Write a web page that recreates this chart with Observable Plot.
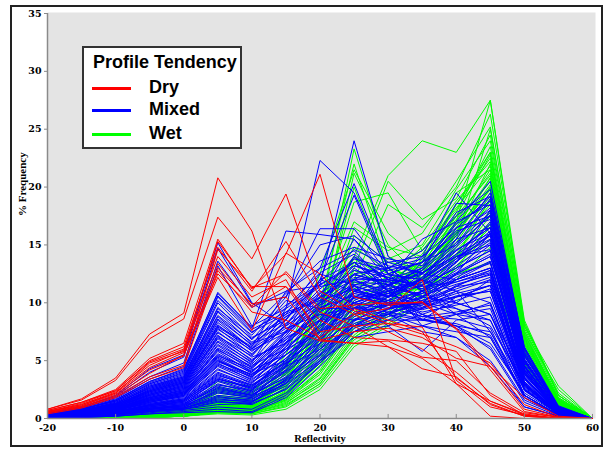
<!DOCTYPE html>
<html><head><meta charset="utf-8">
<script src="https://cdn.jsdelivr.net/npm/d3@7"></script>
<script src="https://cdn.jsdelivr.net/npm/@observablehq/plot@0.6"></script>
<style>
body{margin:0;background:#fff;}
#wrap{position:relative;width:607px;height:450px;overflow:hidden;}
#border{position:absolute;left:10px;top:5px;width:593px;height:442px;border:2px solid #222;box-sizing:border-box;pointer-events:none;}
#legend{position:absolute;left:82px;top:46px;width:160px;height:103px;background:#fff;border:2px solid #333;box-sizing:border-box;font-family:"Liberation Sans",Arial,sans-serif;font-weight:bold;font-size:18px;color:#000;overflow:visible;}
#legend .title{position:absolute;left:9px;top:4px;white-space:nowrap;}
#legend .item{position:absolute;left:65px;white-space:nowrap;line-height:20px;}
#legend .sw{position:absolute;left:8px;width:39px;height:3px;}
</style></head>
<body>
<div id="wrap">
  <div id="chart"></div>
  <div id="legend"></div>
  <div id="border"></div>
</div>
<script>
// Reflectivity bins (x) and tick labels
const bins = [-20,-15,-10,-5,0,5,10,15,20,25,30,35,40,45,50,55,60];
const xTicks = [-20,-10,0,10,20,30,40,50,60];
const yTicks = [0,5,10,15,20,25,30,35];
const groups = ["Dry","Mixed","Wet"];
const colors = ["#ff0000","#0000ff","#00ff00"];

// % Frequency profiles, one array per profile, values at each bin
const dry = [
 [0.8,1.7,3.5,7.3,9.1,20.8,16.2,7.8,6.7,6.5,6.7,5.3,5.0,2.2,0.5,0.1,0],
 [0.8,1.6,3.3,6.9,8.6,17.4,13.8,19.4,11.0,9.3,8.2,7.3,6.2,4.8,1.2,0.1,0],
 [0.7,1.4,2.5,5.2,6.5,15.5,11.2,14.2,21.1,10.5,9.8,10.1,7.8,4.5,0.8,0.1,0],
 [0.7,1.4,2.4,5.0,6.2,14.8,11.0,15.3,10.5,9.0,9.5,12.0,3.3,1.0,0.3,0,0],
 [0.6,1.2,2.3,4.6,5.9,13.4,9.7,12.7,9.5,9.8,10.0,10.0,7.7,4.2,0.6,0.1,0],
 [0.6,1.1,2.2,4.4,5.7,12.5,9.6,11.4,8.5,7.0,6.8,6.5,5.8,2.0,0.3,0,0],
 [0.5,1.0,2.0,3.9,5.5,12.2,7.6,14.3,12.5,9.5,8.5,7.5,3.5,1.3,0.2,0,0],
 [0.5,1.0,1.9,3.6,4.6,14.6,11.4,11.4,7.5,8.0,8.2,7.9,3.0,0.2,0.0,0,0],
 [0.6,1.2,2.2,4.8,5.8,15.3,11.3,12.5,9.2,8.0,6.2,4.3,3.6,1.2,0.2,0,0],
 [0.5,1.1,2.1,4.2,5.4,13.0,9.9,10.5,6.8,6.5,6.2,5.2,3.0,1.5,0.4,0,0],
 [0.6,1.3,2.4,4.9,6.0,14.0,10.5,12.0,6.8,7.5,7.8,7.0,5.2,4.5,1.8,0.2,0],
 [0.4,0.9,1.8,3.4,4.4,12.8,9.2,8.5,7.0,9.0,7.5,6.0,4.0,1.5,0.3,0,0]
];
const mixed = [
 [0.5,1.0,2.0,4.3,5.5,15.2,10.0,8.0,12.0,13.5,11.0,10.0,9.5,8.0,3.0,0.5,0],
 [0.5,1.0,1.9,4.0,5.3,14.7,9.9,10.5,16.4,16.4,12.5,12.0,11.0,7.5,2.5,0.4,0],
 [0.4,0.9,1.8,3.6,4.8,13.6,9.6,11.0,13.0,14.5,11.5,10.5,10.0,9.0,3.5,0.6,0],
 [0.4,0.9,1.7,3.4,4.5,13.2,8.0,9.5,22.3,19.5,13.0,11.0,9.0,7.0,2.0,0.3,0],
 [0.4,0.8,1.6,3.2,4.2,10.9,7.8,16.2,15.9,15.5,12.0,8.5,8.0,6.5,2.2,0.4,0],
 [0.4,0.8,1.5,3.0,4.0,10.5,7.5,9.0,10.5,12.5,11.5,13.0,15.5,16.5,4.0,0.6,0],
 [0.4,0.8,1.5,2.9,3.8,10.0,7.0,8.5,12.0,11.0,10.5,12.0,14.0,15.0,3.5,0.5,0],
 [0.3,0.7,1.4,2.8,3.6,9.6,6.8,10.2,9.5,14.0,12.0,11.5,13.5,18.0,4.5,0.7,0],
 [0.3,0.7,1.3,2.7,3.5,9.2,6.5,7.5,11.0,10.0,9.5,10.0,12.0,13.0,3.0,0.5,0],
 [0.3,0.7,1.3,2.6,3.4,8.8,6.3,9.0,13.0,20.3,13.0,11.0,9.5,8.5,2.5,0.4,0],
 [0.3,0.6,1.2,2.5,3.3,8.5,6.0,8.0,10.0,12.0,13.5,14.0,16.5,17.5,4.0,0.6,0],
 [0.3,0.6,1.2,2.4,3.2,8.1,5.8,7.8,9.0,9.5,9.0,8.5,10.5,11.5,2.8,0.5,0],
 [0.3,0.6,1.1,2.3,3.1,7.8,5.5,8.5,12.5,11.5,10.5,12.5,15.0,19.0,5.0,0.8,0],
 [0.3,0.6,1.1,2.2,3.0,7.5,5.3,6.5,9.8,13.0,11.0,9.0,8.0,7.5,2.0,0.3,0],
 [0.3,0.6,1.1,2.1,2.9,7.2,5.0,7.0,8.5,10.0,10.8,11.5,13.0,14.5,3.8,0.6,0],
 [0.3,0.5,1.0,2.0,2.8,6.9,4.8,9.5,11.5,24.0,14.0,12.0,10.0,9.0,2.5,0.4,0],
 [0.3,0.5,1.0,2.0,2.7,6.6,4.6,6.0,7.5,9.0,9.5,10.5,12.5,16.0,4.2,0.7,0],
 [0.2,0.5,1.0,1.9,2.6,6.3,4.4,7.2,10.5,15.5,12.5,13.5,18.6,18.4,5.0,0.8,0],
 [0.2,0.5,0.9,1.8,2.5,6.0,4.2,5.5,8.0,11.0,10.0,9.5,11.0,12.0,3.0,0.5,0],
 [0.2,0.5,0.9,1.8,2.4,5.8,4.0,6.8,9.0,8.5,9.0,7.5,7.0,4.5,1.0,0.2,0],
 [0.2,0.4,0.9,1.7,2.3,5.5,3.9,5.0,7.0,10.5,11.5,12.5,14.5,16.5,4.5,0.7,0],
 [0.2,0.4,0.8,1.6,2.2,5.2,3.7,6.0,8.5,12.5,13.0,11.0,12.0,13.5,3.2,0.5,0],
 [0.2,0.4,0.8,1.5,2.1,5.0,3.5,7.5,12.0,19.3,12.5,10.0,9.0,10.0,2.5,0.4,0],
 [0.2,0.4,0.8,1.5,2.0,4.8,3.3,5.5,7.5,9.5,9.8,10.0,10.5,11.0,2.8,0.4,0],
 [0.2,0.4,0.7,1.4,1.9,4.5,3.2,4.8,6.5,8.5,9.0,11.0,13.5,17.0,5.5,0.9,0],
 [0.2,0.4,0.7,1.3,1.8,4.3,3.0,6.2,10.0,14.0,11.0,12.0,15.5,19.5,6.0,1.0,0],
 [0.2,0.3,0.7,1.3,1.7,4.0,2.9,4.5,6.0,8.0,8.5,8.5,9.0,9.5,2.0,0.3,0],
 [0.2,0.3,0.6,1.2,1.6,3.8,2.7,5.2,8.0,10.5,10.0,9.8,11.5,12.5,3.5,0.5,0],
 [0.1,0.3,0.6,1.1,1.5,3.5,2.5,4.2,7.0,9.0,10.5,13.5,16.0,18.0,5.0,0.8,0],
 [0.1,0.3,0.6,1.1,1.4,3.3,2.4,5.8,9.5,11.5,9.0,8.0,7.5,7.0,1.8,0.3,0],
 [0.1,0.3,0.5,1.0,1.3,3.0,2.2,4.0,6.2,8.8,10.0,11.0,12.5,14.0,4.0,0.6,0],
 [0.1,0.3,0.5,1.0,1.3,2.8,2.1,3.5,5.5,7.5,8.0,9.0,10.0,12.0,3.0,0.5,0],
 [0.1,0.2,0.5,0.9,1.2,2.6,2.0,3.8,6.8,10.0,11.0,12.0,14.0,15.5,4.8,0.8,0],
 [0.1,0.2,0.5,0.9,1.1,2.4,1.9,3.2,5.8,8.0,9.5,10.0,11.0,10.0,2.5,0.4,0],
 [0.1,0.2,0.4,0.8,1.0,2.2,1.8,4.5,8.5,12.0,12.0,13.0,17.0,20.5,6.0,1.0,0],
 [0.1,0.2,0.4,0.8,1.0,2.0,1.7,3.0,5.0,7.0,7.5,8.0,9.0,8.5,2.0,0.3,0],
 [0.1,0.2,0.4,0.7,0.9,1.8,1.6,3.4,6.0,9.0,10.5,11.5,13.0,14.5,4.0,0.6,0],
 [0.1,0.2,0.4,0.7,0.9,1.6,1.5,2.8,5.2,8.5,9.8,10.5,12.0,13.0,3.5,0.5,0],
 [0.1,0.2,0.3,0.6,0.8,1.4,1.4,3.0,6.5,11.0,13.0,14.5,17.5,19.8,6.2,1.1,0],
 [0.1,0.1,0.3,0.6,0.8,1.2,1.3,2.5,4.8,7.5,8.5,9.5,10.5,11.5,3.0,0.5,0],
 [0.1,0.1,0.2,0.4,0.6,0.8,0.6,2.0,5.0,8.0,9.5,11.0,13.5,16.0,5.0,0.8,0],
 [0.0,0.1,0.2,0.4,0.5,0.6,0.5,1.8,4.5,7.5,9.0,10.0,12.5,14.0,4.2,0.7,0],
 [0.3,0.7,1.4,2.8,3.7,9.5,7.2,10.5,15.0,15.8,13.5,12.5,12.0,13.0,3.0,0.5,0],
 [0.3,0.6,1.2,2.4,3.2,8.0,6.2,11.0,11.5,13.5,11.5,8.0,7.0,5.0,1.0,0.2,0],
 [0.2,0.5,1.0,2.0,2.7,6.7,4.9,8.2,10.5,12.0,10.5,8.5,8.2,7.2,2.0,0.3,0],
 [0.2,0.5,0.9,1.8,2.5,6.1,4.5,7.5,9.5,9.5,11.5,14.0,19.5,16.0,4.0,0.6,0],
 [0.2,0.4,0.9,1.7,2.3,5.6,4.1,6.5,8.8,11.0,12.0,15.5,17.0,18.5,5.2,0.8,0],
 [0.2,0.4,0.8,1.6,2.1,5.1,3.6,5.8,8.0,10.0,8.0,5.8,8.5,9.0,2.5,0.4,0],
 [0.2,0.4,0.7,1.4,1.9,4.6,3.4,5.5,7.8,11.5,12.5,13.5,15.0,17.5,5.8,0.9,0],
 [0.1,0.3,0.6,1.2,1.6,3.9,2.8,4.8,7.2,10.0,11.2,12.0,14.5,16.5,5.0,0.8,0],
 [0.1,0.3,0.6,1.1,1.5,3.6,2.6,4.4,6.8,9.5,10.2,11.0,12.8,15.0,4.5,0.7,0],
 [0.1,0.3,0.5,1.0,1.4,3.2,2.3,4.1,6.5,9.2,9.8,10.8,11.8,12.8,3.8,0.6,0],
 [0.1,0.2,0.5,0.9,1.2,2.7,2.0,3.6,6.0,8.2,9.2,9.8,10.8,11.5,3.2,0.5,0],
 [0.1,0.2,0.4,0.8,1.1,2.3,1.8,3.3,5.6,8.0,9.0,10.2,11.2,12.2,3.6,0.6,0],
 [0.2,0.5,1.0,2.1,2.8,7.0,5.1,6.8,9.2,10.8,10.2,9.2,9.8,10.5,2.6,0.4,0],
 [0.3,0.6,1.2,2.4,3.3,8.3,6.0,8.8,10.8,12.8,12.2,11.2,13.2,15.2,4.0,0.6,0],
 [0.3,0.7,1.3,2.6,3.5,8.9,6.6,8.2,11.2,13.5,12.8,13.5,16.2,17.2,4.6,0.7,0],
 [0.4,0.8,1.6,3.1,4.1,10.6,7.7,9.2,10.2,11.2,10.2,9.0,7.8,6.2,1.6,0.3,0],
 [0.1,0.2,0.4,0.8,1.1,2.9,2.4,4.6,7.4,10.4,11.0,11.8,13.8,16.2,4.6,0.7,0],
 [0.1,0.2,0.3,0.7,0.9,1.9,1.5,3.1,5.4,8.6,9.4,10.4,12.2,13.6,3.6,0.5,0],
 [0.1,0.1,0.3,0.6,0.8,1.5,1.2,2.6,5.0,8.4,10.2,12.2,14.8,17.6,5.4,0.9,0],
 [0.1,0.2,0.4,0.9,1.2,3.4,2.7,5.0,8.2,11.8,11.6,10.6,11.6,12.4,3.4,0.5,0],
 [0.2,0.3,0.6,1.2,1.7,4.2,3.1,5.2,7.6,9.8,10.8,12.8,15.8,18.2,5.6,0.9,0],
 [0.2,0.4,0.7,1.4,2.0,4.9,3.8,6.4,9.2,12.2,11.8,11.2,12.6,14.2,3.9,0.6,0],
 [0.2,0.4,0.8,1.6,2.2,5.4,4.3,7.0,10.2,13.2,12.4,12.0,14.2,16.8,4.9,0.8,0],
 [0.2,0.5,0.9,1.9,2.6,6.4,4.7,7.6,9.8,11.4,10.6,10.2,11.4,11.8,2.9,0.4,0],
 [0.3,0.5,1.0,2.1,2.9,7.1,5.4,8.6,11.8,14.6,13.2,12.6,14.6,16.0,4.3,0.7,0],
 [0.3,0.6,1.1,2.3,3.1,7.7,5.9,7.4,9.6,10.6,9.6,8.8,9.2,9.8,2.4,0.4,0],
 [0.3,0.6,1.2,2.5,3.4,8.6,6.4,9.6,12.6,14.2,12.0,11.6,13.8,15.8,4.4,0.7,0],
 [0.3,0.7,1.3,2.7,3.6,9.3,6.9,8.8,10.4,12.4,11.8,12.8,15.2,17.8,5.1,0.8,0],
 [0.4,0.8,1.5,3.0,3.9,10.2,7.4,9.8,11.6,13.2,12.2,11.4,11.8,12.6,3.1,0.5,0],
 [0.4,0.8,1.6,3.2,4.3,10.8,7.9,10.8,13.6,14.8,13.8,13.2,16.8,18.8,5.4,0.9,0],
 [0.1,0.1,0.2,0.5,0.7,1.0,0.8,2.2,4.8,7.8,8.8,9.6,11.4,12.8,3.8,0.6,0],
 [0.1,0.2,0.3,0.6,0.9,1.7,1.4,3.4,6.4,9.6,10.6,12.2,14.2,15.8,4.6,0.7,0],
 [0.1,0.2,0.4,0.8,1.0,2.5,2.0,4.2,7.0,10.2,11.4,13.0,16.4,19.2,6.1,1.0,0],
 [0.2,0.3,0.6,1.2,1.6,3.7,2.9,4.9,7.8,10.6,9.8,9.4,10.2,11.2,2.9,0.4,0],
 [0.2,0.4,0.7,1.5,2.0,4.7,3.6,6.0,8.6,10.4,10.8,11.8,13.6,15.4,4.2,0.7,0],
 [0.2,0.5,0.9,1.8,2.4,5.9,4.4,7.2,10.8,13.8,13.0,13.8,17.8,19.2,5.7,1.0,0],
 [0.3,0.6,1.1,2.2,3.0,7.4,5.6,8.0,10.0,11.6,11.2,10.8,12.4,13.4,3.4,0.5,0],
 [0.2,0.4,0.8,1.7,2.3,5.3,4.0,6.6,9.4,11.2,10.0,8.8,8.6,7.8,1.8,0.3,0],
 [0.1,0.3,0.5,1.1,1.5,3.4,2.6,4.7,7.6,10.8,11.6,12.6,14.0,14.6,4.1,0.6,0],
 [0.3,0.6,1.2,2.3,3.1,7.9,6.1,9.2,11.4,12.0,10.8,9.6,10.6,11.0,2.7,0.4,0],
 [0.2,0.4,0.8,1.6,2.2,5.0,3.8,6.2,8.4,9.6,9.2,8.6,8.0,6.0,1.4,0.2,0]
];
const wet = [
 [0.1,0.2,0.3,0.5,0.8,3.2,2.8,5.0,10.0,22.0,13.0,12.0,17.0,27.5,8.0,2.8,0],
 [0.1,0.2,0.3,0.5,0.8,2.9,2.5,4.5,9.0,23.3,14.0,12.5,16.0,22.0,7.5,2.5,0],
 [0.1,0.1,0.2,0.4,0.7,2.6,2.2,4.0,8.5,20.0,12.5,11.5,15.5,25.0,8.2,2.2,0],
 [0.1,0.1,0.2,0.4,0.7,2.4,2.0,3.8,8.0,21.2,15.0,12.0,14.0,19.0,6.5,1.8,0],
 [0.0,0.1,0.2,0.4,0.6,2.2,1.8,4.8,10.5,14.0,21.0,24.0,23.0,27.5,8.5,2.0,0],
 [0.0,0.1,0.2,0.3,0.6,2.0,1.7,3.5,7.5,13.0,20.5,17.2,19.0,24.5,7.6,1.6,0],
 [0.0,0.1,0.2,0.3,0.5,1.9,1.6,4.2,9.5,18.7,19.5,14.5,18.0,23.0,7.0,1.5,0],
 [0.0,0.1,0.1,0.3,0.5,1.8,1.5,3.0,6.5,12.0,18.5,16.5,20.0,26.3,8.3,2.0,0],
 [0.0,0.1,0.1,0.3,0.5,1.7,1.4,3.3,7.0,15.8,13.5,13.0,18.5,22.5,7.2,1.7,0],
 [0.0,0.1,0.1,0.3,0.5,1.6,1.3,2.8,6.0,11.0,12.0,13.5,19.5,21.5,6.0,1.4,0],
 [0.0,0.0,0.1,0.2,0.4,1.5,1.2,3.6,8.2,14.0,12.5,11.5,16.5,20.8,6.8,1.5,0],
 [0.0,0.0,0.1,0.2,0.4,1.4,1.1,2.5,5.5,10.0,11.2,12.8,17.5,21.0,6.4,1.3,0],
 [0.0,0.0,0.1,0.2,0.4,1.3,1.0,2.2,5.0,9.5,10.5,12.0,16.0,20.0,5.6,1.2,0],
 [0.0,0.0,0.1,0.2,0.4,1.2,1.0,3.0,7.5,12.8,11.5,12.5,17.8,23.5,7.4,1.6,0],
 [0.0,0.0,0.1,0.2,0.3,1.1,0.9,2.0,4.5,8.8,10.0,12.2,15.5,19.2,5.4,1.1,0],
 [0.0,0.0,0.1,0.2,0.3,1.0,0.8,2.4,6.2,11.5,13.0,14.5,18.2,21.8,6.6,1.4,0],
 [0.0,0.0,0.1,0.2,0.3,0.9,0.8,1.8,4.0,8.2,9.5,11.8,15.0,18.5,5.0,1.0,0],
 [0.0,0.0,0.1,0.1,0.3,0.8,0.7,1.6,3.8,7.8,9.2,11.5,14.5,17.8,4.8,1.0,0],
 [0.0,0.0,0.0,0.1,0.3,0.8,0.7,2.2,5.8,10.5,11.8,13.2,16.8,20.5,6.1,1.3,0],
 [0.0,0.0,0.0,0.1,0.2,0.7,0.6,1.5,3.5,7.5,9.0,11.0,14.0,17.0,4.6,0.9,0],
 [0.0,0.0,0.0,0.1,0.2,0.6,0.5,1.4,3.2,7.0,8.8,10.8,13.5,16.5,4.4,0.9,0],
 [0.0,0.0,0.0,0.1,0.2,0.5,0.5,1.2,3.0,6.8,8.5,10.5,13.2,16.0,4.2,0.8,0],
 [0.0,0.0,0.0,0.1,0.2,0.5,0.4,1.0,2.8,6.5,8.2,10.2,13.0,15.5,3.9,0.8,0],
 [0.0,0.0,0.1,0.2,0.3,1.0,0.9,2.6,6.8,12.0,13.8,15.0,19.8,24.0,7.8,1.8,0],
 [0.0,0.0,0.1,0.2,0.4,1.3,1.1,3.2,8.0,16.5,14.5,16.0,20.5,25.2,8.0,2.0,0],
 [0.0,0.1,0.1,0.3,0.5,1.9,1.6,3.9,8.5,13.5,11.0,10.5,14.2,18.0,5.4,1.2,0],
 [0.0,0.1,0.2,0.3,0.6,2.3,1.9,4.4,9.8,14.8,12.8,12.2,15.2,19.5,5.8,1.3,0],
 [0.0,0.0,0.1,0.2,0.4,1.6,1.3,2.9,6.8,11.8,10.8,11.2,13.8,17.5,5.1,1.1,0],
 [0.0,0.0,0.1,0.2,0.3,1.1,1.0,2.3,5.4,9.8,10.2,11.5,14.8,18.8,5.6,1.2,0],
 [0.0,0.0,0.1,0.2,0.3,0.9,0.8,2.0,4.8,9.0,9.8,12.5,16.2,20.2,6.0,1.3,0],
 [0.0,0.0,0.0,0.1,0.2,0.7,0.6,1.7,4.2,8.5,10.5,13.8,17.2,21.2,6.4,1.4,0],
 [0.0,0.0,0.0,0.1,0.2,0.6,0.5,1.6,4.0,8.0,10.0,13.0,16.5,19.8,5.8,1.2,0],
 [0.0,0.1,0.2,0.3,0.6,2.5,2.1,5.5,12.5,21.5,16.0,13.5,15.8,20.0,5.7,1.3,0],
 [0.0,0.1,0.1,0.3,0.5,1.5,1.2,4.0,10.0,17.0,14.8,14.0,17.5,22.8,7.1,1.6,0],
 [0.0,0.0,0.1,0.2,0.4,1.2,1.0,2.7,6.4,11.2,12.2,14.8,18.8,22.2,6.9,1.5,0],
 [0.0,0.0,0.0,0.1,0.3,0.8,0.7,1.9,4.6,9.2,11.0,13.5,17.0,21.5,6.7,1.5,0],
 [0.0,0.1,0.2,0.4,0.7,2.7,2.3,4.6,9.2,13.8,12.0,11.0,13.0,16.8,4.7,1.0,0],
 [0.0,0.0,0.1,0.2,0.4,1.4,1.2,3.4,7.8,12.5,11.5,12.8,16.0,19.8,5.9,1.2,0],
 [0.0,0.0,0.1,0.2,0.3,1.0,0.9,2.1,5.2,10.2,11.5,14.2,18.5,23.0,7.3,1.7,0],
 [0.0,0.0,0.0,0.1,0.2,0.6,0.5,1.3,3.4,7.2,9.5,12.0,15.8,20.8,6.2,1.3,0],
 [0.0,0.0,0.0,0.1,0.2,0.5,0.4,1.1,3.0,7.0,9.0,10.5,12.5,13.5,3.5,0.6,0],
 [0.0,0.0,0.0,0.1,0.2,0.4,0.3,0.8,2.5,6.2,8.0,10.0,12.0,14.8,2.5,0.3,0]
];

function rowsOf(series, name) {
  const out = [];
  series.forEach((s, i) => s.forEach((v, j) => out.push({x: bins[j], y: v, id: name + i})));
  return out;
}
const wetRows = rowsOf(wet, "Wet");
const mixedRows = rowsOf(mixed, "Mixed");
const dryRows = rowsOf(dry, "Dry");

const tickFont = {fontFamily: "DejaVu Serif", fontWeight: "bold", fontSize: 9.5, fill: "#000"};
const chart = Plot.plot({
  width: 607, height: 450,
  marginLeft: 47, marginRight: 15, marginTop: 13, marginBottom: 32,
  style: {background: "transparent", overflow: "visible"},
  x: {domain: [-20, 60]},
  y: {domain: [0, 35]},
  marks: [
    Plot.frame({fill: "#e4e4e4", stroke: null, insetRight: -3, insetTop: -1}),
    Plot.line(wetRows, {x: "x", y: "y", z: "id", stroke: colors[2], strokeWidth: 1}),
    Plot.line(mixedRows, {x: "x", y: "y", z: "id", stroke: colors[1], strokeWidth: 1}),
    Plot.line(dryRows, {x: "x", y: "y", z: "id", stroke: colors[0], strokeWidth: 1}),
    Plot.ruleY([0], {stroke: "#8a8a8a", strokeWidth: 1.5}),
    Plot.ruleX([-20], {stroke: "#8a8a8a", strokeWidth: 1.5}),
    Plot.ruleX(xTicks, {y1: 0, y2: 0.35, stroke: "#8a8a8a"}),
    Plot.axisX({ticks: xTicks, tickSize: 0, tickPadding: 6, label: null, tickFormat: d => String(d), ...tickFont}),
    Plot.axisY({ticks: yTicks, tickSize: 3, tickPadding: 3, label: null, stroke: "#8a8a8a", ...tickFont}),
    Plot.text(["Reflectivity"], {frameAnchor: "bottom", dy: 23.5, fontFamily: "Liberation Serif", fontWeight: "bold", fontSize: 10.5, fill: "#000"}),
    Plot.text(["% Frequency"], {frameAnchor: "left", dx: -25, rotate: -90, fontFamily: "Liberation Serif", fontWeight: "bold", fontSize: 11, fill: "#000"})
  ]
});
document.getElementById("chart").appendChild(chart);

// legend
const lg = document.getElementById("legend");
const t = document.createElement("div");
t.className = "title"; t.textContent = "Profile Tendency";
lg.appendChild(t);
const tops = [28, 50, 74];
groups.forEach((g, i) => {
  const sw = document.createElement("div");
  sw.className = "sw"; sw.style.background = colors[i]; sw.style.top = (tops[i] + 11) + "px";
  lg.appendChild(sw);
  const it = document.createElement("div");
  it.className = "item"; it.textContent = g; it.style.top = (tops[i] + 1) + "px";
  lg.appendChild(it);
});
</script>
</body></html>
